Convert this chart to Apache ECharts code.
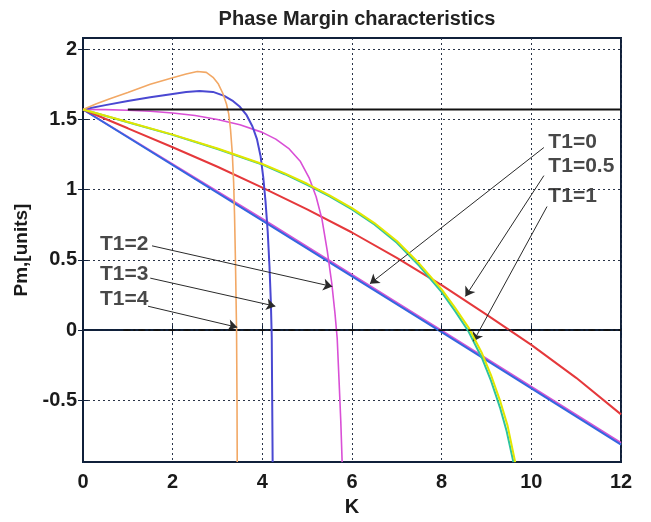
<!DOCTYPE html>
<html>
<head>
<meta charset="utf-8">
<script src="https://cdn.jsdelivr.net/npm/echarts@6/dist/echarts.min.js"></script>
<style>
html,body{margin:0;padding:0;background:#fff;}
#c{width:651px;height:522px;}
</style>
</head>
<body>
<div id="c"></div>
<script>
// ---- data ----
const titleText = 'Phase Margin characteristics';
const xName = 'K';
const yName = 'Pm,[units]';
const yTicks = [-0.5, 0, 0.5, 1, 1.5, 2];

// T1 = 0 (straight line, blue with magenta companion)
const t0Blue = [[0,1.571],[4,0.78],[8,-0.015],[12,-0.815]];
const t0Mag  = [[0,1.571],[4,0.792],[8,-0.003],[12,-0.803]];
// T1 = 0.5 (red)
const t05 = [[0,1.571],[1,1.437],[2,1.302],[3,1.163],[4,1.015],[5,0.86],[6,0.695],[7,0.515],[8,0.32],[9,0.11],[10,-0.105],[11,-0.34],[12,-0.60]];
// T1 = 1 (green / yellow)
const t1 = [[0,1.571],[1,1.48],[2,1.39],[3,1.29],[4,1.178],[4.5,1.11],[5,1.035],[5.5,0.952],[6,0.86],[6.5,0.752],[7,0.622],[7.5,0.458],[8,0.27],[8.3,0.135],[8.6,-0.01],[8.9,-0.2],[9.1,-0.36],[9.3,-0.55],[9.45,-0.72],[9.6,-0.94]];
const t1b = [[0,1.571],[1,1.482],[2,1.392],[3,1.293],[4,1.183],[4.5,1.116],[5,1.042],[5.5,0.96],[6,0.868],[6.5,0.762],[7,0.635],[7.5,0.474],[8,0.29],[8.3,0.158],[8.6,0.018],[8.9,-0.165],[9.1,-0.32],[9.3,-0.5],[9.47,-0.68],[9.64,-0.94]];
// T1 = 2 (magenta)
const t2 = [[0,1.571],[0.5,1.57],[1,1.566],[1.5,1.558],[2,1.546],[2.5,1.528],[3,1.5],[3.5,1.462],[4,1.408],[4.3,1.36],[4.6,1.29],[4.85,1.2],[5.05,1.08],[5.2,0.95],[5.33,0.79],[5.45,0.56],[5.55,0.33],[5.62,0.12],[5.67,-0.06],[5.71,-0.35],[5.75,-0.65],[5.78,-0.94]];
// T1 = 3 (blue-violet)
const t3 = [[0,1.571],[0.5,1.602],[1,1.632],[1.5,1.658],[2,1.682],[2.3,1.695],[2.6,1.702],[2.9,1.696],[3.15,1.668],[3.35,1.63],[3.5,1.59],[3.65,1.53],[3.78,1.45],[3.88,1.36],[3.96,1.24],[4.02,1.09],[4.07,0.92],[4.12,0.7],[4.16,0.45],[4.19,0.2],[4.21,-0.05],[4.22,-0.5],[4.23,-0.94]];
// T1 = 4 (orange)
const t4 = [[0,1.571],[0.3,1.612],[0.6,1.648],[1,1.692],[1.5,1.75],[2,1.797],[2.3,1.823],[2.55,1.842],[2.75,1.835],[2.9,1.8],[3.02,1.752],[3.12,1.685],[3.2,1.61],[3.25,1.54],[3.29,1.43],[3.33,1.26],[3.36,1.05],[3.38,0.82],[3.40,0.5],[3.415,0.2],[3.425,0],[3.435,-0.5],[3.44,-0.94]];
// reference lines
const hLine = [[1.0,1.5708],[12,1.5708]];
const zLine = [[0.9,0],[12,0]];

// annotations
const noteText = ['T1=0','T1=0.5','T1=1','T1=2','T1=3','T1=4'];
const noteX    = [10.38, 10.38, 10.38, 0.38, 0.38, 0.38];
const noteY    = [1.34, 1.17, 0.95, 0.61, 0.40, 0.22];
const arrowFrom = [[10.28,1.30],[10.28,1.10],[10.35,0.88],[1.54,0.60],[1.50,0.37],[1.45,0.17]];
const arrowTo   = [[6.40,0.33],[8.53,0.24],[8.71,-0.08],[5.56,0.31],[4.29,0.17],[3.44,0.02]];

const FONT = '"Liberation Sans", Arial, sans-serif';
const frameColor = '#10203a';
const gridStyle = {color:'#2a3448', type:[2,3], width:1};

function line(data, color, width, z, extra){
  return Object.assign({
    type:'line', data:data, symbol:'none', smooth:false,
    lineStyle:{color:color, width:width}, itemStyle:{color:color}, z:z, clip:true,
    xAxisIndex:0, yAxisIndex:0, silent:true
  }, extra||{});
}

const chart = echarts.init(document.getElementById('c'), null, {renderer:'canvas'});
const option = {
  animation:false,
  backgroundColor:'#ffffff',
  title:{text:titleText, left:352, textAlign:'center', top:4,
    textStyle:{fontFamily:FONT, fontWeight:'bold', fontSize:20, color:'#222'}},
  grid:{left:83, right:30, top:38, bottom:52, show:true, borderColor:frameColor, borderWidth:2, backgroundColor:'#fff'},
  xAxis:[{
    type:'value', min:0, max:12, interval:2,
    name:xName, nameLocation:'middle', nameGap:31,
    nameTextStyle:{fontFamily:FONT, fontWeight:'bold', fontSize:20, color:'#1a1a1a'},
    axisLine:{show:true, lineStyle:{color:frameColor, width:2}},
    axisTick:{show:true, inside:true, length:5, lineStyle:{color:frameColor}},
    axisLabel:{fontFamily:FONT, fontWeight:'bold', fontSize:20, color:'#1a1a1a', margin:10},
    splitLine:{show:true, lineStyle:gridStyle}
  },{
    type:'value', min:0, max:12, interval:2, position:'top',
    axisLine:{show:true, lineStyle:{color:frameColor, width:2}},
    axisTick:{show:true, inside:true, length:5, lineStyle:{color:frameColor}},
    axisLabel:{show:false}, splitLine:{show:false}
  }],
  yAxis:[{
    type:'value', min:-0.94, max:2.08,
    name:yName, nameLocation:'middle', nameGap:50, nameRotate:90,
    nameTextStyle:{fontFamily:FONT, fontWeight:'bold', fontSize:19, color:'#1a1a1a'},
    axisLine:{show:true, lineStyle:{color:'#14406a', width:2}},
    axisTick:{show:true, inside:true, length:5, customValues:yTicks, lineStyle:{color:frameColor}},
    axisLabel:{customValues:yTicks, fontFamily:FONT, fontWeight:'bold', fontSize:20, color:'#1a1a1a', margin:6,
      formatter:function(v){return String(v);}},
    splitLine:{show:true, lineStyle:gridStyle}
  },{
    type:'value', min:-0.94, max:2.08, position:'right',
    axisLine:{show:true, lineStyle:{color:frameColor, width:2}},
    axisTick:{show:true, inside:true, length:5, customValues:yTicks, lineStyle:{color:frameColor}},
    axisLabel:{show:false}, splitLine:{show:false}
  }],
  series:[
    line(t0Mag, '#d455d4', 2, 3),
    line(t0Blue, '#3466e0', 2, 4),
    line(t05, '#e5383b', 2, 4),
    line(t1, '#2ec4a0', 2, 4),
    line(t1b, '#e2e600', 2, 5),
    line(t2, '#d94fd6', 1.6, 4),
    line(t3, '#4a48d2', 2, 4),
    line(t4, '#f2a865', 1.6, 4),
    line(hLine, '#111111', 2, 6),
    line(zLine, '#111111', 1.8, 6, {lineStyle:{color:'#111', width:1.8, type:[7,3,2,3]}}),
    {
      type:'scatter', xAxisIndex:0, yAxisIndex:0, silent:true, z:10,
      symbolSize:0,
      data: noteText.map(function(t,i){return {value:[noteX[i], noteY[i]], name:t};}),
      label:{show:true, position:'right', distance:0, formatter:function(p){return p.name;},
        fontFamily:FONT, fontWeight:'bold', fontSize:21, color:'#1a1a1a'},
      markLine:{
        silent:true, symbol:['none','arrow'], symbolSize:9, animation:false,
        label:{show:false},
        lineStyle:{color:'#2a2a2a', width:1, type:'solid'},
        data: arrowFrom.map(function(a,i){return [{coord:a},{coord:arrowTo[i]}];})
      }
    }
  ]
};
chart.setOption(option);
</script>
</body>
</html>
